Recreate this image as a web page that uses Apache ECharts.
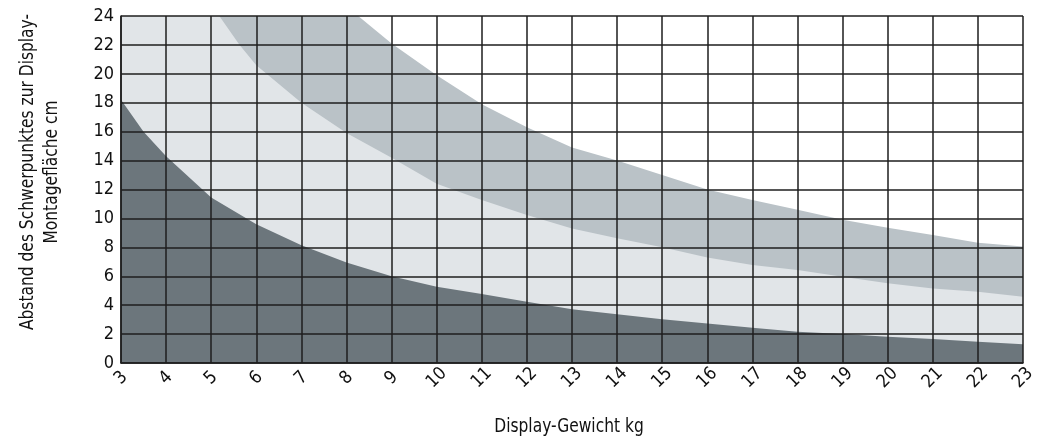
<!DOCTYPE html>
<html><head><meta charset="utf-8">
<script src="https://cdn.jsdelivr.net/npm/echarts@6/dist/echarts.min.js"></script>
<style>html,body{margin:0;padding:0;background:#fff}#c{width:1048px;height:441px}</style>
</head><body><div id="c"></div>
<script>
// Display weight (kg) and distances (cm)
const darkX  = [3, 3.5, 4, 5, 6, 7, 8, 9, 10, 11, 12, 13, 14, 15, 16, 17, 18, 19, 20, 21, 22, 23];
const darkY  = [18.2, 16.0, 14.3, 11.45, 9.6, 8.15, 6.95, 6.0, 5.28, 4.77, 4.24, 3.71, 3.37, 3.02, 2.74, 2.44, 2.17, 2.0, 1.82, 1.66, 1.47, 1.29];
const lowerX = [3, 5.18, 5.63, 6, 7, 8, 9, 10, 11, 12, 13, 14, 15, 16, 17, 18, 19, 20, 21, 22, 23];
const lowerY = [24, 24, 22, 20.6, 18.0, 15.9, 14.2, 12.4, 11.27, 10.23, 9.31, 8.62, 8.0, 7.3, 6.78, 6.43, 5.97, 5.51, 5.16, 4.93, 4.59];
const upperX = [3, 8.26, 9, 10, 11, 12, 13, 14, 15, 16, 17, 18, 19, 20, 21, 22, 23];
const upperY = [24, 24, 22.1, 19.9, 17.9, 16.3, 14.9, 14.0, 13.0, 12.0, 11.27, 10.6, 9.9, 9.36, 8.85, 8.32, 8.05];
const xTitle = 'Display-Gewicht kg';
const yTitle = 'Abstand des Schwerpunktes zur Display-\nMontagefläche cm';

const zip = (xs, ys) => xs.map((x, i) => [x, ys[i]]);
const FONT = '"DejaVu Sans Condensed", "Liberation Sans", sans-serif';
const LINE = '#1e1e1e';

function area(name, xs, ys, color, z) {
  return {
    name, type: 'line', data: zip(xs, ys), symbol: 'none', smooth: false, z,
    lineStyle: { width: 0 }, areaStyle: { color, opacity: 1, origin: 'start' }
  };
}

const chart = echarts.init(document.getElementById('c'), null, { renderer: 'canvas' });
chart.setOption({
  animation: false,
  backgroundColor: '#ffffff',
  grid: { left: 121, right: 25, top: 16, bottom: 78 },
  xAxis: {
    type: 'value', min: 3, max: 23, interval: 1, z: 5,
    axisLine: { show: true, lineStyle: { color: LINE, width: 1.5 } },
    axisTick: { show: false },
    splitLine: { show: true, lineStyle: { color: LINE, width: 1.5 } },
    axisLabel: { rotate: 45, align: 'center', verticalAlign: 'middle', margin: 15,
      fontFamily: FONT, fontSize: 18, color: '#111' }
  },
  yAxis: {
    type: 'value', min: 0, max: 24, interval: 2, z: 5,
    axisLine: { show: true, lineStyle: { color: LINE, width: 1.5 } },
    axisTick: { show: false },
    splitLine: { show: true, lineStyle: { color: LINE, width: 1.5 } },
    axisLabel: { margin: 7, fontFamily: FONT, fontSize: 18, color: '#111' }
  },
  graphic: [{
    type: 'text', x: 569, y: 427, scaleX: 0.86,
    style: { text: xTitle, fontFamily: FONT, fontSize: 20, fill: '#111',
      align: 'center', verticalAlign: 'middle' }
  }, {
    type: 'text', x: 40, y: 172, rotation: Math.PI / 2, scaleX: 0.86,
    style: { text: yTitle, fontFamily: FONT, fontSize: 20, lineHeight: 24, fill: '#111',
      align: 'center', verticalAlign: 'middle' }
  }],
  series: [
    area('upper', upperX, upperY, '#bac2c7', 1),
    area('lower', lowerX, lowerY, '#e1e5e8', 2),
    area('dark', darkX, darkY, '#6c767c', 3)
  ]
});
</script></body></html>
